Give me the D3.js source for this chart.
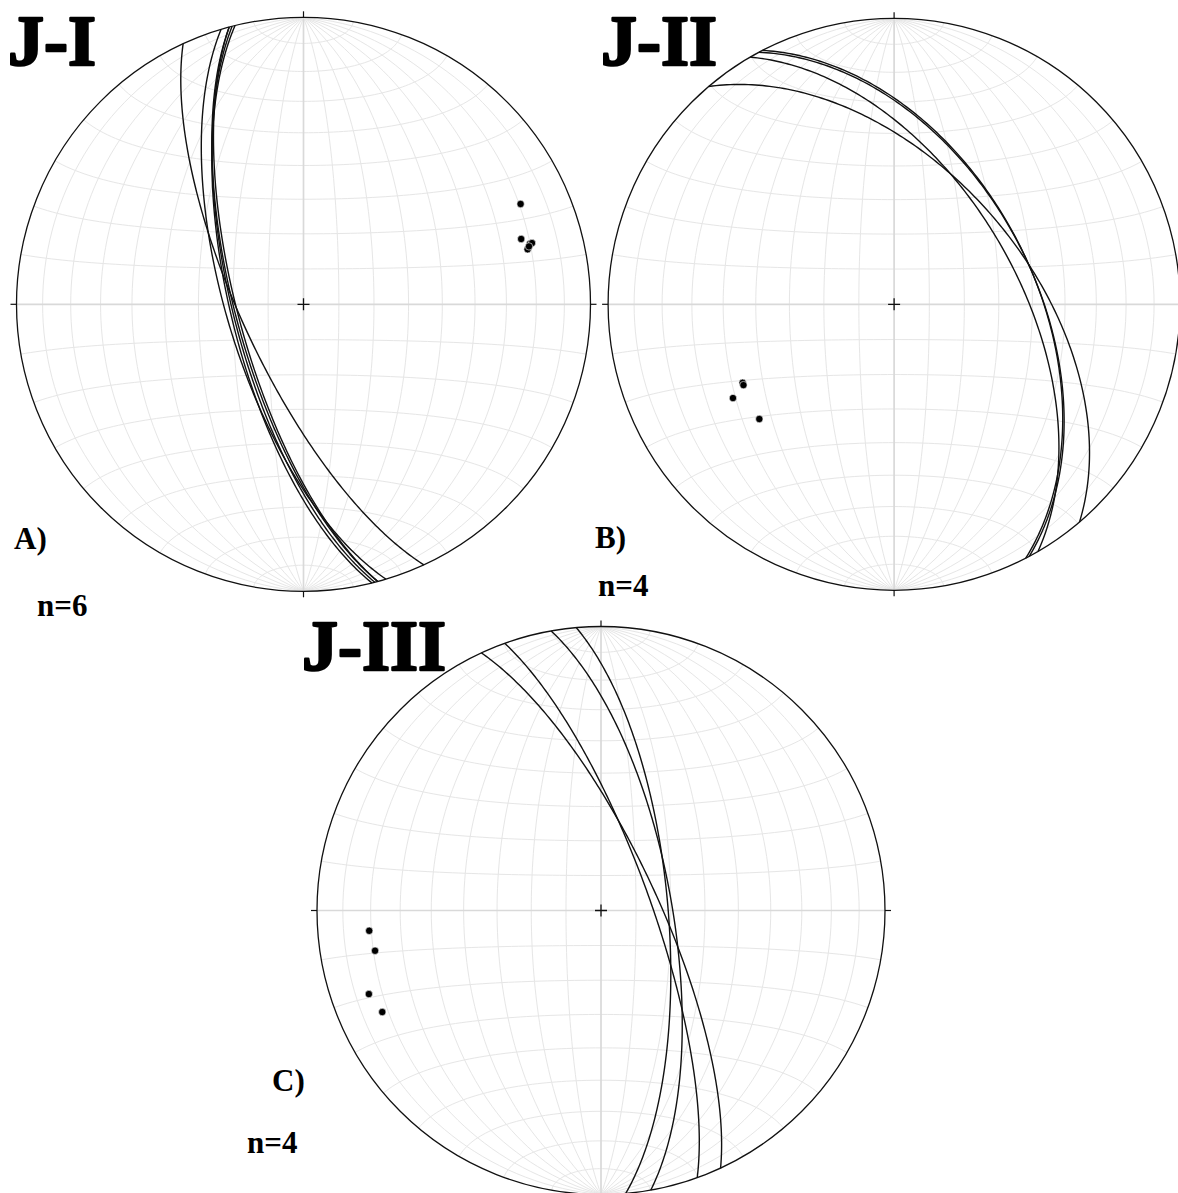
<!DOCTYPE html>
<html><head><meta charset="utf-8">
<script src="https://cdn.jsdelivr.net/npm/d3@7"></script>
<style>html,body{margin:0;padding:0;background:#fff;overflow:hidden}svg{display:block}</style>
</head><body>
<svg id="chart" width="1178" height="1193"></svg>
<script>
// ---- data ----
const setNames = ["J-I", "J-II", "J-III"];
const panelLetters = ["A)", "B)", "C)"];
const countLabels = ["n=6", "n=4", "n=4"];
// joint planes as [dip direction, dip] in degrees (poles are derived from them)
const planesJI = [[245.2, 72.2], [253.3, 68.1], [255.0, 70.6], [256.2, 69.3], [255.0, 71.3], [255.6, 70.0]];
const planesJII = [[62.6, 49.9], [61.8, 50.0], [59.8, 54.9], [49.6, 51.9]];
const planesJIII = [[65.1, 73.8], [70.2, 75.8], [79.9, 69.7], [85.0, 70.8]];
const gridMeridians = d3.range(-80, 81, 10);
const gridParallels = d3.range(-80, 81, 10);

// ---- layout ----
const panels = [
  {planes: planesJI, cx: 303.5, cy: 304.3, R: 287, title: [8, 65], letter: [14, 549], count: [37, 616]},
  {planes: planesJII, cx: 894.1, cy: 304.3, R: 286, title: [601, 65], letter: [595, 548], count: [598, 596]},
  {planes: planesJIII, cx: 601, cy: 910.5, R: 284, title: [302, 670], letter: [272, 1091], count: [247, 1153]}
];

const rad = Math.PI / 180, deg = 180 / Math.PI;
// (north, east, down) unit vector -> lon/lat on a transverse equatorial net (lower hemisphere)
function vecToLonLat(n, e, d) {
  if (d < 0) { n = -n; e = -e; d = -d; }
  return [Math.atan2(e, d) * deg, Math.asin(Math.max(-1, Math.min(1, n))) * deg];
}
function planeLine(dd, dip) {
  const s = (dd - 90) * rad, a = dd * rad, p = dip * rad;
  const sv = [Math.cos(s), Math.sin(s), 0];
  const dv = [Math.cos(p) * Math.cos(a), Math.cos(p) * Math.sin(a), Math.sin(p)];
  const coords = d3.range(0, 180.01, 1).map(t => {
    const c = Math.cos(t * rad), si = Math.sin(t * rad);
    return vecToLonLat(c * sv[0] + si * dv[0], c * sv[1] + si * dv[1], c * sv[2] + si * dv[2]);
  });
  return {type: "LineString", coordinates: coords};
}
function poleOf(dd, dip) {
  const tr = (dd + 180) * rad, pl = (90 - dip) * rad;
  return vecToLonLat(Math.cos(pl) * Math.cos(tr), Math.cos(pl) * Math.sin(tr), Math.sin(pl));
}

const svg = d3.select("#chart");
svg.append("rect").attr("width", 1178).attr("height", 1193).attr("fill", "#fff");
const serif = "'Liberation Serif', 'Times New Roman', Times, serif";

panels.forEach((P, i) => {
  const proj = d3.geoAzimuthalEqualArea()
    .rotate([0, 0]).scale(P.R / Math.SQRT2).translate([P.cx, P.cy]).precision(0.1);
  const path = d3.geoPath(proj);
  const g = svg.append("g");

  // grid (Schmidt equal-area net, 10 degree steps)
  const mer = gridMeridians.map(lon => ({type: "LineString", coordinates: d3.range(-90, 90.01, 2).map(la => [lon, la])}));
  const par = gridParallels.map(lat => ({type: "LineString", coordinates: d3.range(-90, 90.01, 2).map(lo => [lo, lat])}));
  g.selectAll(".gm").data(mer.filter((d, k) => gridMeridians[k] !== 0)).join("path")
    .attr("d", path).attr("fill", "none").attr("stroke", "#e6e6e6").attr("stroke-width", 1);
  g.selectAll(".gp").data(par.filter((d, k) => gridParallels[k] !== 0)).join("path")
    .attr("d", path).attr("fill", "none").attr("stroke", "#e6e6e6").attr("stroke-width", 1);
  g.selectAll(".ax").data([mer[gridMeridians.indexOf(0)], par[gridParallels.indexOf(0)]]).join("path")
    .attr("d", path).attr("fill", "none").attr("stroke", "#d9d9d9").attr("stroke-width", 1.7);

  // primitive circle
  g.append("circle").attr("cx", P.cx).attr("cy", P.cy).attr("r", P.R)
    .attr("fill", "none").attr("stroke", "#111").attr("stroke-width", 1.3);
  // N E S W ticks
  const tk = 6;
  const ticks = [[0, -1], [1, 0], [0, 1], [-1, 0]];
  g.selectAll(".tick").data(ticks).join("line")
    .attr("x1", d => P.cx + d[0] * P.R).attr("y1", d => P.cy + d[1] * P.R)
    .attr("x2", d => P.cx + d[0] * (P.R + tk)).attr("y2", d => P.cy + d[1] * (P.R + tk))
    .attr("stroke", "#111").attr("stroke-width", 1.2);
  // centre cross
  g.append("path").attr("d", `M${P.cx - 6},${P.cy}H${P.cx + 6}M${P.cx},${P.cy - 6}V${P.cy + 6}`)
    .attr("stroke", "#111").attr("stroke-width", 1.3);

  // great circles
  g.selectAll(".gc").data(P.planes.map(p => planeLine(p[0], p[1]))).join("path")
    .attr("d", path).attr("fill", "none").attr("stroke", "#111").attr("stroke-width", 1.4);
  // poles
  g.selectAll(".pole").data(P.planes.map(p => proj(poleOf(p[0], p[1])))).join("circle")
    .attr("cx", d => d[0]).attr("cy", d => d[1]).attr("r", 3.7)
    .attr("fill", "#000").attr("stroke", "#fff").attr("stroke-width", 0.6);

  // labels
  svg.append("text").attr("x", P.title[0]).attr("y", P.title[1]).text(setNames[i])
    .attr("font-family", serif).attr("font-weight", "bold")
    .attr("font-size", 72).attr("fill", "#000").attr("stroke", "#000").attr("stroke-width", 2.4)
    .attr("stroke-linejoin", "round");
  svg.append("text").attr("x", P.letter[0]).attr("y", P.letter[1]).text(panelLetters[i])
    .attr("font-family", serif).attr("font-weight", "bold")
    .attr("font-size", 31).attr("fill", "#000");
  svg.append("text").attr("x", P.count[0]).attr("y", P.count[1]).text(countLabels[i])
    .attr("font-family", serif).attr("font-weight", "bold")
    .attr("font-size", 31).attr("fill", "#000");
});
</script>
</body></html>
